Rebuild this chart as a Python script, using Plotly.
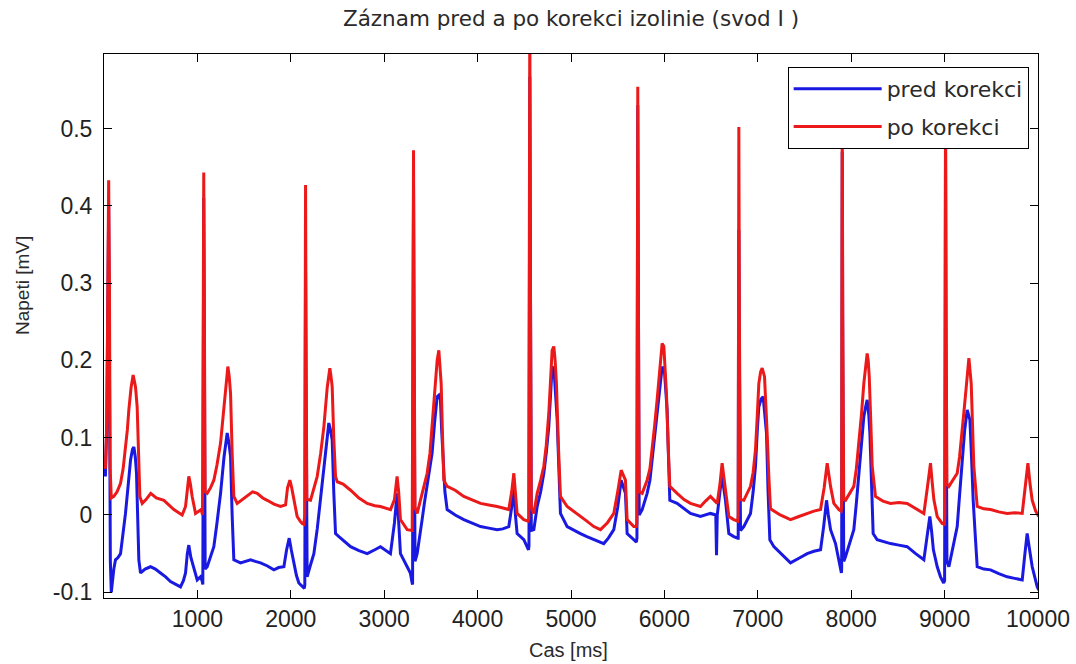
import plotly.graph_objects as go

# ---- data (vertices of the two ECG traces) ----
cas_pred = [0, 15, 30, 42, 50, 58, 68, 78, 88, 105, 123, 150, 177, 205, 230, 260, 284, 305, 320, 335, 348, 360, 373, 391, 440, 498, 550, 605, 660, 712, 770, 819, 850, 873, 892, 908, 930, 955, 998, 1033, 1050,
            1058, 1062, 1068, 1075, 1083, 1105, 1140, 1176, 1210, 1248, 1285, 1319, 1335, 1355, 1372, 1390, 1462, 1515, 1569, 1620, 1676, 1750, 1819, 1870, 1926, 1955, 1983, 2005, 2033, 2060, 2086, 2122, 2145,
            2150, 2153, 2158, 2164, 2172, 2175, 2210, 2247, 2283, 2318, 2360, 2407, 2425, 2443, 2460, 2479, 2515, 2580, 2640, 2730, 2818, 2900, 2960, 3067, 3110, 3138, 3155, 3174, 3246, 3280, 3299,
            3304, 3308, 3314, 3320, 3330, 3353, 3380, 3406, 3430, 3460, 3490, 3513, 3540, 3567, 3585, 3602, 3615, 3631, 3650, 3674, 3760, 3852, 3940, 4031, 4120, 4209, 4270, 4334, 4365, 4388, 4405, 4423, 4495, 4530, 4545,
            4550, 4553, 4559, 4566, 4575, 4602, 4638, 4675, 4709, 4735, 4762, 4798, 4810, 4823, 4852, 4870, 4887, 4959, 5030, 5101, 5170, 5244, 5351, 5400, 5458, 5500, 5537, 5583, 5601, 5672, 5700,
            5706, 5710, 5715, 5721, 5730, 5762, 5815, 5845, 5869, 5895, 5922, 5950, 5976, 6001, 6015, 6029, 6045, 6058, 6136, 6210, 6279, 6386, 6493, 6550, 6558, 6566, 6595, 6618, 6635, 6654, 6690, 6743, 6785,
            6790, 6793, 6797, 6803, 6815, 6850, 6890, 6922, 6950, 6975, 6995, 7011, 7035, 7057, 7075, 7093, 7110, 7129, 7172, 7260, 7350, 7440, 7529, 7600, 7672, 7705, 7736, 7755, 7779, 7832, 7879, 7895,
            7898, 7900, 7904, 7910, 7920, 7939, 7985, 8028, 8055, 8082, 8110, 8135, 8155, 8171, 8188, 8200, 8218, 8235, 8278, 8350, 8421, 8510, 8599, 8690, 8778, 8810, 8842, 8860, 8880, 8921, 8956, 8990,
            9000, 9006, 9010, 9016, 9025, 9046, 9090, 9135, 9160, 9188, 9215, 9242, 9255, 9271, 9290, 9306, 9330, 9349, 9420, 9492, 9580, 9670, 9750, 9831, 9860, 9884, 9910, 9938, 9965, 9992, 10009]
napeti_pred = [0.06, 0.05, 0.12, 0.33, 0.40, 0.2, -0.06, -0.10, -0.088, -0.07, -0.058, -0.055, -0.05, -0.025, 0.002, 0.04, 0.071, 0.085, 0.088, 0.075, 0.054, 0.0, -0.058, -0.075, -0.07, -0.067, -0.07, -0.075, -0.08, -0.086, -0.09, -0.093, -0.085, -0.075, -0.05, -0.039, -0.055, -0.067, -0.084, -0.080, -0.085,
               -0.09, 0.2, 0.41, 0.2, -0.07, -0.067, -0.055, -0.041, -0.01, 0.028, 0.075, 0.106, 0.095, 0.076, 0.0, -0.058, -0.062, -0.06, -0.058, -0.06, -0.062, -0.066, -0.071, -0.068, -0.067, -0.045, -0.030, -0.045, -0.062, -0.078, -0.088, -0.093, -0.095,
               -0.09, 0.15, 0.315, 0.15, -0.08, -0.080, -0.065, -0.050, -0.018, 0.019, 0.07, 0.119, 0.11, 0.097, 0.03, -0.024, -0.028, -0.035, -0.041, -0.046, -0.050, -0.045, -0.041, -0.050, -0.01, 0.028, -0.01, -0.050, -0.067, -0.075, -0.088,
               -0.09, 0.2, 0.424, 0.2, -0.06, -0.050, -0.03, -0.006, 0.015, 0.037, 0.06, 0.080, 0.12, 0.153, 0.155, 0.149, 0.11, 0.063, 0.03, 0.007, 0.0, -0.006, -0.01, -0.015, -0.017, -0.019, -0.018, -0.015, 0.01, 0.037, 0.0, -0.024, -0.032, -0.041, -0.045,
               -0.04, 0.3, 0.567, 0.3, -0.02, -0.019, 0.011, 0.03, 0.054, 0.08, 0.114, 0.192, 0.19, 0.179, 0.123, 0.06, 0.002, -0.015, -0.02, -0.024, -0.028, -0.032, -0.037, -0.03, -0.019, 0.01, 0.045, 0.028, -0.024, -0.032, -0.035,
               -0.03, 0.3, 0.53, 0.3, 0.0, 0.007, 0.028, 0.045, 0.071, 0.1, 0.127, 0.16, 0.192, 0.185, 0.16, 0.136, 0.07, 0.019, 0.015, 0.008, 0.002, -0.002, 0.002, 0.0, -0.052, 0.0, 0.03, 0.054, 0.035, 0.019, -0.024, -0.028, -0.03,
               -0.03, 0.2, 0.369, 0.2, -0.02, -0.015, -0.005, 0.002, 0.03, 0.063, 0.11, 0.140, 0.15, 0.153, 0.13, 0.106, 0.03, -0.032, -0.041, -0.052, -0.062, -0.056, -0.050, -0.047, -0.045, -0.015, 0.019, 0.0, -0.019, -0.037, -0.067, -0.075,
               -0.07, 0.2, 0.47, 0.2, -0.06, -0.054, -0.035, -0.019, 0.015, 0.054, 0.09, 0.127, 0.14, 0.149, 0.13, 0.106, 0.04, -0.024, -0.032, -0.035, -0.037, -0.039, -0.041, -0.05, -0.058, -0.03, -0.002, -0.02, -0.045, -0.067, -0.080, -0.088,
               -0.085, 0.2, 0.48, 0.2, -0.06, -0.067, -0.04, -0.015, 0.025, 0.071, 0.11, 0.136, 0.13, 0.123, 0.07, 0.019, -0.03, -0.067, -0.07, -0.071, -0.076, -0.080, -0.082, -0.084, -0.05, -0.024, -0.045, -0.067, -0.08, -0.093, -0.097]

cas_po = [0, 15, 30, 42, 50, 58, 66, 78, 105, 140, 177, 205, 230, 250, 266, 290, 312, 325, 337, 355, 370, 384, 409, 450, 500, 560, 641, 700, 748, 800, 837, 873, 895, 908, 925, 944, 980, 1020,
          1040, 1055, 1062, 1068, 1075, 1083, 1105, 1140, 1176, 1210, 1248, 1275, 1301, 1326, 1340, 1355, 1372, 1390, 1426, 1480, 1533, 1590, 1640, 1700, 1747, 1820, 1890, 1944, 1965, 1990, 2010, 2033, 2068, 2100, 2122, 2140,
          2150, 2153, 2158, 2164, 2172, 2211, 2250, 2283, 2320, 2354, 2390, 2418, 2430, 2443, 2460, 2479, 2497, 2560, 2640, 2730, 2818, 2900, 2960, 3068, 3110, 3138, 3155, 3174, 3246, 3290,
          3300, 3308, 3314, 3320, 3330, 3353, 3380, 3406, 3430, 3460, 3490, 3513, 3540, 3567, 3585, 3597, 3610, 3625, 3638, 3674, 3760, 3852, 3940, 4031, 4120, 4209, 4334, 4365, 4388, 4405, 4423, 4495, 4540,
          4548, 4553, 4559, 4566, 4575, 4602, 4638, 4675, 4709, 4735, 4762, 4798, 4816, 4830, 4844, 4865, 4887, 4959, 5030, 5101, 5170, 5244, 5316, 5390, 5458, 5500, 5537, 5583, 5601, 5672, 5700,
          5705, 5710, 5715, 5721, 5730, 5762, 5815, 5845, 5869, 5895, 5922, 5950, 5976, 5994, 6008, 6022, 6040, 6058, 6136, 6210, 6279, 6386, 6440, 6493, 6565, 6595, 6618, 6635, 6654, 6690, 6743, 6785,
          6790, 6793, 6797, 6803, 6815, 6850, 6890, 6922, 6950, 6975, 6995, 7011, 7030, 7047, 7072, 7085, 7100, 7118, 7136, 7240, 7350, 7440, 7529, 7600, 7672, 7710, 7743, 7760, 7779, 7814, 7868, 7892,
          7898, 7900, 7904, 7910, 7920, 7939, 7985, 8028, 8055, 8082, 8110, 8135, 8171, 8182, 8193, 8210, 8225, 8260, 8340, 8421, 8510, 8599, 8690, 8778, 8815, 8849, 8865, 8885, 8921, 8974, 8998,
          9003, 9006, 9010, 9016, 9025, 9046, 9090, 9135, 9160, 9188, 9212, 9235, 9260, 9285, 9300, 9313, 9349, 9420, 9492, 9580, 9670, 9750, 9831, 9865, 9892, 9915, 9938, 9975, 10009]
napeti_po = [0.068, 0.06, 0.12, 0.36, 0.433, 0.30, 0.06, 0.022, 0.024, 0.03, 0.041, 0.06, 0.084, 0.11, 0.136, 0.165, 0.181, 0.172, 0.166, 0.140, 0.08, 0.024, 0.015, 0.02, 0.028, 0.022, 0.019, 0.012, 0.007, 0.003, 0.0, 0.011, 0.04, 0.050, 0.04, 0.024, 0.002, 0.005,
             0.007, 0.0, 0.25, 0.443, 0.25, 0.03, 0.028, 0.035, 0.045, 0.065, 0.093, 0.13, 0.166, 0.192, 0.18, 0.157, 0.08, 0.024, 0.015, 0.02, 0.024, 0.03, 0.028, 0.022, 0.019, 0.014, 0.011, 0.013, 0.035, 0.045, 0.035, 0.019, -0.002, -0.008, -0.011, -0.012,
             0.0, 0.2, 0.427, 0.2, 0.02, 0.019, 0.035, 0.050, 0.08, 0.114, 0.165, 0.190, 0.18, 0.166, 0.1, 0.050, 0.043, 0.04, 0.032, 0.022, 0.015, 0.012, 0.011, 0.007, 0.02, 0.050, 0.03, -0.006, -0.019, -0.02,
             -0.02, 0.25, 0.472, 0.25, 0.01, 0.002, 0.015, 0.028, 0.04, 0.054, 0.08, 0.114, 0.16, 0.200, 0.213, 0.195, 0.170, 0.1, 0.045, 0.037, 0.032, 0.024, 0.02, 0.015, 0.013, 0.011, 0.007, 0.03, 0.054, 0.03, 0.002, -0.006, -0.008,
             -0.005, 0.3, 0.65, 0.3, 0.01, 0.002, 0.028, 0.045, 0.063, 0.09, 0.131, 0.213, 0.218, 0.2, 0.170, 0.09, 0.024, 0.011, 0.005, -0.002, -0.008, -0.015, -0.019, -0.01, 0.002, 0.03, 0.058, 0.045, -0.006, -0.015, -0.015,
             -0.01, 0.3, 0.554, 0.3, 0.03, 0.028, 0.045, 0.06, 0.084, 0.115, 0.149, 0.19, 0.222, 0.218, 0.19, 0.157, 0.09, 0.037, 0.028, 0.02, 0.015, 0.011, 0.018, 0.024, 0.015, 0.04, 0.067, 0.05, 0.037, -0.002, -0.006, -0.008,
             0.0, 0.25, 0.502, 0.25, 0.02, 0.019, 0.028, 0.037, 0.055, 0.084, 0.13, 0.170, 0.185, 0.190, 0.179, 0.15, 0.106, 0.05, 0.008, 0.0, -0.006, -0.002, 0.002, 0.005, 0.007, 0.035, 0.067, 0.05, 0.037, 0.015, 0.007, 0.005,
             0.01, 0.25, 0.52, 0.25, 0.02, 0.019, 0.028, 0.037, 0.06, 0.093, 0.13, 0.170, 0.209, 0.2, 0.179, 0.12, 0.063, 0.024, 0.018, 0.015, 0.016, 0.015, 0.008, 0.002, 0.035, 0.067, 0.045, 0.02, -0.002, -0.011, -0.012,
             0.0, 0.25, 0.53, 0.25, 0.04, 0.037, 0.045, 0.054, 0.075, 0.106, 0.14, 0.170, 0.203, 0.170, 0.11, 0.063, 0.011, 0.008, 0.007, 0.004, 0.002, 0.003, 0.002, 0.04, 0.067, 0.04, 0.019, 0.005, -0.002]

nazvy = ["pred korekci", "po korekci"]
barvy = ["rgb(25,25,225)", "rgb(235,25,25)"]
x_ticks = [1000, 2000, 3000, 4000, 5000, 6000, 7000, 8000, 9000, 10000]
x_tick_text = ["1000", "2000", "3000", "4000", "5000", "6000", "7000", "8000", "9000", "10000"]
y_ticks = [-0.1, 0, 0.1, 0.2, 0.3, 0.4, 0.5]
y_tick_text = ["-0.1", "0", "0.1", "0.2", "0.3", "0.4", "0.5"]

fig = go.Figure()
fig.add_trace(go.Scatter(x=cas_pred, y=napeti_pred, mode="lines", name=nazvy[0], legendgroup="a",
                         line=dict(color=barvy[0], width=3)))
fig.add_trace(go.Scatter(x=cas_po, y=napeti_po, mode="lines", name=nazvy[1], legendgroup="b",
                         line=dict(color=barvy[1], width=3)))

tick_font = dict(family="Liberation Sans", size=23, color="#222")
axis_common = dict(showline=True, linecolor="black", linewidth=1, mirror="ticks",
                   ticks="inside", ticklen=8, tickcolor="black", showgrid=False,
                   zeroline=False, tickfont=tick_font, automargin=False)

fig.update_layout(
    width=1076, height=664,
    margin=dict(l=104, r=38, t=54, b=66),
    paper_bgcolor="white", plot_bgcolor="white",
    title=dict(text="Záznam pred a po korekci izolinie (svod I )", x=0.5, xref="paper",
               y=1 - 18 / 664, yref="container", xanchor="center", yanchor="middle",
               font=dict(family="DejaVu Sans", size=21.5, color="#2a2a2a")),
    xaxis=dict(range=[0, 10000], tickvals=x_ticks, ticktext=x_tick_text, **axis_common),
    yaxis=dict(range=[-0.1074, 0.5964], tickvals=y_ticks, ticktext=y_tick_text,
               ticklabelstandoff=6, **axis_common),
    legend=dict(x=0.99, xanchor="right", y=0.976, yanchor="top",
                bgcolor="white", bordercolor="black", borderwidth=1,
                font=dict(family="DejaVu Sans", size=22, color="#2a2a2a"),
                itemwidth=88, tracegroupgap=6, traceorder="grouped"),
    showlegend=True,
    annotations=[
        dict(text="Cas [ms]", xref="paper", yref="paper", x=0.497, y=(598 - 650) / 544,
             xanchor="center", yanchor="middle", showarrow=False,
             font=dict(family="Liberation Sans", size=20, color="#2a2a2a")),
        dict(text="Napeti [mV]", xref="paper", yref="paper", x=(22 - 104) / 934, y=(598 - 286) / 544,
             xanchor="center", yanchor="middle", showarrow=False, textangle=-90,
             font=dict(family="Liberation Sans", size=19, color="#2a2a2a")),
    ],
)

fig.write_html("out.html")
